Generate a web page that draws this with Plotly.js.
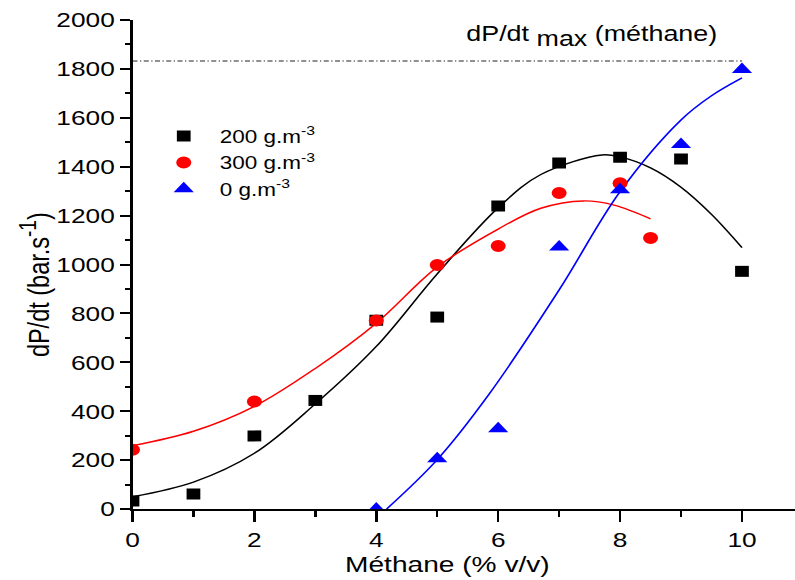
<!DOCTYPE html>
<html><head><meta charset="utf-8">
<script src="https://cdn.plot.ly/plotly-3.0.1.min.js"></script>
<style>
html,body{margin:0;padding:0;background:#fff;overflow:hidden}
#wrap{width:636px;height:580px;transform:scaleX(1.25);transform-origin:0 0}
</style>
</head><body><div id="wrap"></div>
<script>
// measured points
const methane200 = [0, 1, 2, 3, 4, 5, 6, 7, 8, 9, 10];
const dpdt200 = [33, 61, 299, 444, 772, 785, 1239, 1415, 1439, 1431, 972];
const methane300 = [0, 2, 4, 5, 6, 7, 8, 8.5];
const dpdt300 = [242, 440, 771, 998, 1076, 1292, 1332, 1108];
const methane0 = [4, 5, 6, 7, 8, 9, 10];
const dpdt0 = [0, 206, 328, 1072, 1306, 1491, 1798];
// fitted curves
const fitX200 = [0, 1, 2, 3, 4, 5, 6, 6.7, 7.7, 8, 8.5, 9, 9.5, 10];
const fitY200 = [50, 110, 228, 430, 665, 962, 1232, 1368, 1448, 1440, 1395, 1316, 1205, 1069];
const fitX300 = [0, 1, 2, 3, 4, 5, 6, 6.7, 7.4, 7.9, 8.5];
const fitY300 = [259, 318, 420, 575, 760, 990, 1145, 1230, 1260, 1243, 1187];
const fitX0 = [4.17, 5, 5.86, 7, 8, 9, 9.5, 10];
const fitY0 = [0, 202, 473, 896, 1298, 1591, 1690, 1763];
const dpdtMax = 1832;
const seriesNames = ['200 g.m<sup>-3</sup>', '300 g.m<sup>-3</sup>', '0 g.m<sup>-3</sup>'];
const xTicks = [0, 2, 4, 6, 8, 10];
const yTicks = [0, 200, 400, 600, 800, 1000, 1200, 1400, 1600, 1800, 2000];
const xTitle = 'Méthane (% v/v)';
const yTitle = 'dP/dt (bar.s<sup><span style="font-size:19px">-1</span></sup>)';
const maxLabel = 'dP/dt <sub><span style="font-size:21.5px">max</span></sub> (méthane)';

const FONT = 'Liberation Sans, Arial, sans-serif';
const fitLine = (x, y, c) => ({x, y, mode: 'lines', line: {color: c, width: 1.4, shape: 'spline'}, showlegend: false, hoverinfo: 'skip'});
const pts = (x, y, name, sym, c, sz) => ({x, y, name, mode: 'markers', marker: {symbol: sym, color: c, size: sz}});

const data = [
  fitLine(fitX200, fitY200, '#000000'),
  fitLine(fitX300, fitY300, '#ff0000'),
  fitLine(fitX0, fitY0, '#0000ff'),
  pts(methane200, dpdt200, seriesNames[0], 'square', '#000000', 11),
  pts(methane300, dpdt300, seriesNames[1], 'circle', '#ff0000', 12),
  pts(methane0, dpdt0, seriesNames[2], 'triangle-up', '#0000ff', 14)
];

const layout = {
  width: 636, height: 580,
  margin: {l: 106.4, r: 0, t: 20, b: 71, pad: 0},
  paper_bgcolor: '#fff', plot_bgcolor: '#fff',
  font: {family: FONT, color: '#000', size: 19},
  showlegend: true,
  legend: {x: 0.023, y: 0.8, xanchor: 'left', yanchor: 'top', bgcolor: 'rgba(0,0,0,0)', font: {size: 18, family: FONT}, itemwidth: 47.6},
  xaxis: {
    range: [0, 10.87], tickvals: xTicks, ticktext: xTicks.map(String),
    showline: true, linecolor: '#000', linewidth: 2, ticks: 'outside', ticklen: 11, tickwidth: 2, tickcolor: '#000',
    minor: {dtick: 1, tick0: 0, ticks: 'outside', ticklen: 6, tickwidth: 2, tickcolor: '#000'},
    showgrid: false, zeroline: false, tickfont: {size: 21, family: FONT}
  },
  yaxis: {
    range: [0, 2000], tickvals: yTicks, ticktext: yTicks.map(String),
    showline: true, linecolor: '#000', linewidth: 2, ticks: 'outside', ticklen: 8, tickwidth: 2, tickcolor: '#000',
    minor: {dtick: 100, tick0: 0, ticks: 'outside', ticklen: 4, tickwidth: 2, tickcolor: '#000'},
    showgrid: false, zeroline: false, tickfont: {size: 21, family: FONT}
  },
  shapes: [{type: 'line', xref: 'x', yref: 'y', x0: 0, x1: 10, y0: dpdtMax, y1: dpdtMax,
            line: {color: '#222', width: 1, dash: '4px,2px,1px,2px'}}],
  annotations: [
    {xref: 'x', yref: 'y', x: 5.43, y: 1932, xanchor: 'left', yanchor: 'middle', showarrow: false,
     text: maxLabel, font: {size: 21.5, family: FONT}},
    {xref: 'paper', yref: 'paper', x: -0.147, y: 0.458, xanchor: 'center', yanchor: 'middle', showarrow: false,
     textangle: -90, text: yTitle, font: {size: 23.5, family: FONT}},
    {xref: 'x', yref: 'paper', x: 5.17, y: -0.114, xanchor: 'center', yanchor: 'middle', showarrow: false,
     text: xTitle, font: {size: 22.5, family: FONT}}
  ]
};

Plotly.newPlot('wrap', data, layout, {displayModeBar: false, staticPlot: true});
</script>
</body></html>
